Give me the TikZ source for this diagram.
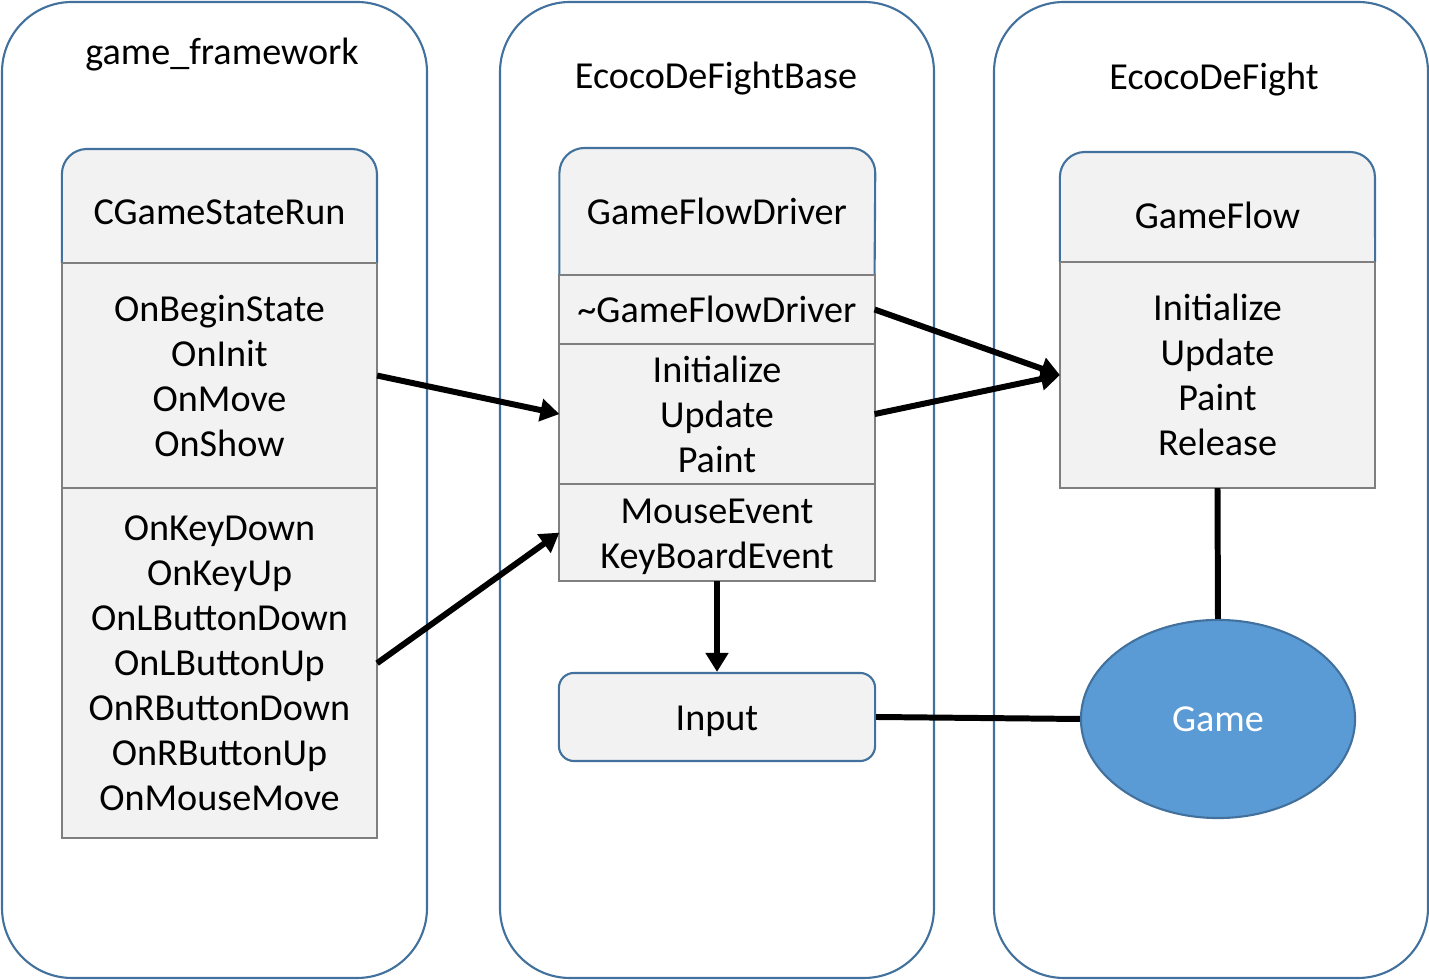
\documentclass[tikz,border=0pt]{standalone}
\usepackage{fontspec}
\setmainfont{Carlito}
\usetikzlibrary{arrows.meta,shapes.geometric}
\definecolor{frame}{HTML}{41719C}
\definecolor{boxfill}{HTML}{F2F2F2}
\definecolor{rulegray}{HTML}{7F7F7F}
\definecolor{gameblue}{HTML}{5B9BD5}
\newcommand{\lift}{\rule{0pt}{9.3pt}}
\begin{document}
\begin{tikzpicture}[x=0.01cm, y=-0.01cm,
        font=\fontsize{10.85}{12.8}\selectfont,
        package/.style={draw=frame, line width=0.6pt, rounded corners=0.7cm},
        headline/.style={fill=boxfill, draw=frame, line width=0.6pt, rounded corners=0.25cm},
        member/.style={draw=rulegray, fill=boxfill, line width=0.6pt, minimum width=3.15cm, inner sep=0pt, outer sep=0pt, align=center, anchor=north},
        link/.style={line width=1.7pt},
        call/.style={link, -{Triangle[length=0.19cm, width=0.22cm]}}]
        \useasboundingbox (0,0) rectangle (1429,980);
        % packages
        \draw[package] (2,2) rectangle (427,978);
        \draw[package] (500,2) rectangle (934,978);
        \draw[package] (994,2) rectangle (1428,978);
        \node (fwtitle) at (222,55) {game\_framework};
        \node (basetitle) at (716,79) {EcocoDeFightBase};
        \node (gametitle) at (1214,80) {EcocoDeFight};

        % CGameStateRun
        \node[member, minimum height=2.25cm] (run1) at (219.5,263) {OnBeginState\\OnInit\\OnMove\\OnShow};
        \node[member, minimum height=3.5cm] (run2) at (run1.south) {OnKeyDown\\OnKeyUp\\OnLButtonDown\\OnLButtonUp\\OnRButtonDown\\OnRButtonUp\\OnMouseMove};
        \filldraw[headline] (run1.north west) -- ++(0,-114) -- ++(315,0) -- (run1.north east);
        \draw[rulegray, line width=0.6pt] (run1.north west) -- (run1.north east);
        \node (runh) at (219.5,212) {CGameStateRun};

        % GameFlowDriver
        \node[member, minimum height=0.69cm] (drv1) at (717,275) {\textasciitilde GameFlowDriver};
        \node[member, minimum height=1.4cm] (drv2) at (drv1.south) {Initialize\\Update\\Paint};
        \node[member, minimum height=0.97cm] (drv3) at (drv2.south) {\lift MouseEvent\\KeyBoardEvent};
        \filldraw[headline] (drv1.north west) -- ++(0,-127) -- ++(316,0) -- (drv1.north east);
        \draw[rulegray, line width=0.6pt] (drv1.north west) -- (drv1.north east);
        \node (drvh) at (717,211) {GameFlowDriver};
        \node[draw=frame, fill=boxfill, line width=0.6pt, rounded corners=0.15cm, minimum width=3.16cm, minimum height=0.88cm] (input) at (717,717) {\lift Input};

        % GameFlow
        \node[member, minimum height=2.26cm] (flow1) at (1217.5,262) {Initialize\\Update\\Paint\\Release};
        \filldraw[headline] (flow1.north west) -- ++(0,-110) -- ++(315,0) -- (flow1.north east);
        \draw[rulegray, line width=0.6pt] (flow1.north west) -- (flow1.north east);
        \node (flowh) at (1217.5,215) {GameFlow};
        \node[ellipse, draw=frame, fill=gameblue, line width=0.6pt, text=white, minimum width=2.74cm, minimum height=1.98cm] (game) at (1218,719) {Game};

        % connectors
        \draw[call] (run1.east) -- (drv2.west);
        \draw[call] (run2.east) -- (drv3.west);
        \draw[call] (drv1.east) -- (flow1.west);
        \draw[call] (drv2.east) -- (flow1.west);
        \draw[call] (drv3.south) -- (input.north);
        \draw[link] (flow1.south) -- (game.north);
        \draw[link] (input.east) -- (game.west);
    \end{tikzpicture}
\end{document}
